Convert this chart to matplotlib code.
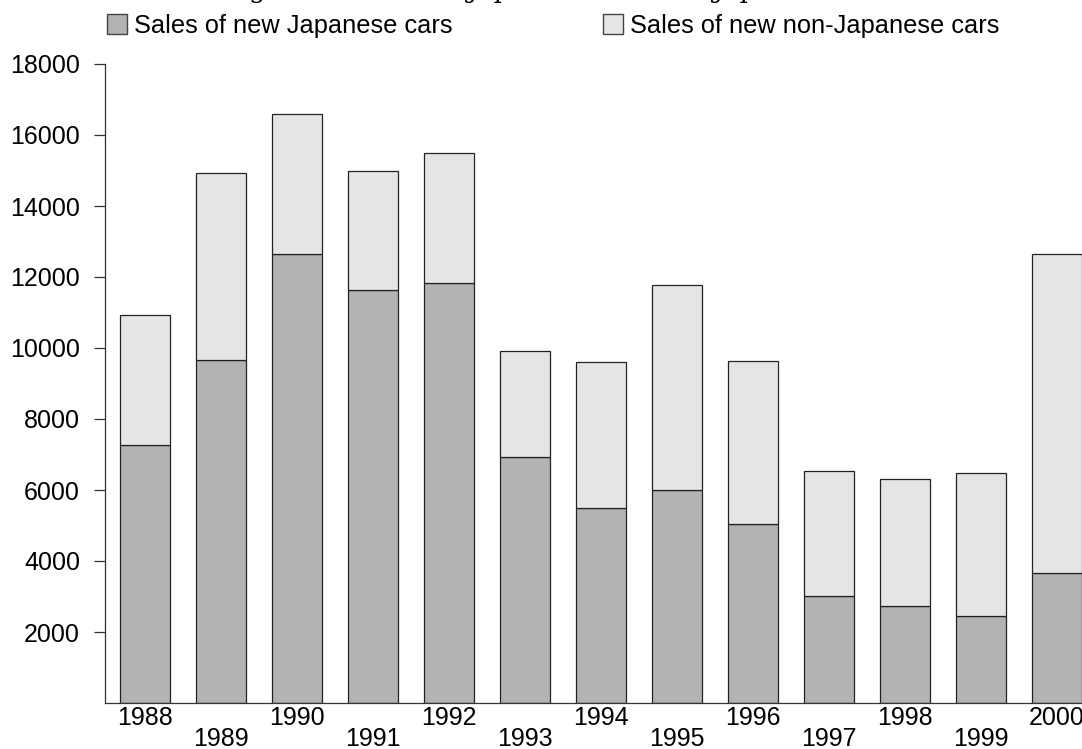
import numpy as np
import matplotlib.pyplot as plt
from matplotlib.patches import Patch

# Data
years = ['1988', '1989', '1990', '1991', '1992', '1993', '1994',
         '1995', '1996', '1997', '1998', '1999', '2000']
japanese = [7270, 9660, 12650, 11630, 11830, 6930, 5490,
            6000, 5040, 3010, 2730, 2450, 3660]
total = [10930, 14930, 16590, 14990, 15490, 9910, 9610,
         11780, 9630, 6530, 6310, 6480, 12650]
non_japanese = [t - j for t, j in zip(total, japanese)]

dark = '#b3b3b3'
light = '#e5e5e5'

plt.rcParams['font.family'] = ['Liberation Sans', 'DejaVu Sans']

fig = plt.figure(figsize=(10.82, 7.49), dpi=100)
ax = fig.add_axes([105 / 1082, 46 / 749, 1 - 105 / 1082, 639 / 749])

x = np.arange(len(years))
ax.bar(x, japanese, width=0.66, color=dark, edgecolor='#222222', linewidth=0.9)
ax.bar(x, non_japanese, bottom=japanese, width=0.66, color=light,
       edgecolor='#222222', linewidth=0.9)

ax.set_xlim(-0.53, 12.33)
ax.set_ylim(0, 18000)
ax.set_yticks(range(2000, 18001, 2000))
ax.tick_params(axis='y', labelsize=18, length=8, width=0.9, color='#333333', pad=10)

# Alternate year labels on two rows
ax.set_xticks(x)
ax.set_xticklabels(['\n' + y if i % 2 else y for i, y in enumerate(years)],
                   fontsize=18, linespacing=0.88)
ax.tick_params(axis='x', length=0, pad=2)

for side in ['top', 'right']:
    ax.spines[side].set_visible(False)
for side in ['left', 'bottom']:
    ax.spines[side].set_linewidth(0.9)
    ax.spines[side].set_color('#333333')

# Legend
handles = [Patch(facecolor=dark, edgecolor='#444444', label='Sales of new Japanese cars'),
           Patch(facecolor=light, edgecolor='#444444', label='Sales of new non-Japanese cars')]
fig.legend(handles=handles, loc='center left', bbox_to_anchor=(107 / 1082, 1 - 26 / 749),
           ncol=2, frameon=False, fontsize=18.3, handlelength=0.8, handleheight=0.85,
           handletextpad=0.28, columnspacing=5.9, borderaxespad=0, borderpad=0)

# Title, clipped at the top edge
fig.text(0.518, 1 + 2 / 749, 'Figure 1: Sales of Japanese and non-Japanese cars',
         ha='center', va='baseline', fontsize=19, family='DejaVu Serif')

fig.savefig('out.png', dpi=100)
